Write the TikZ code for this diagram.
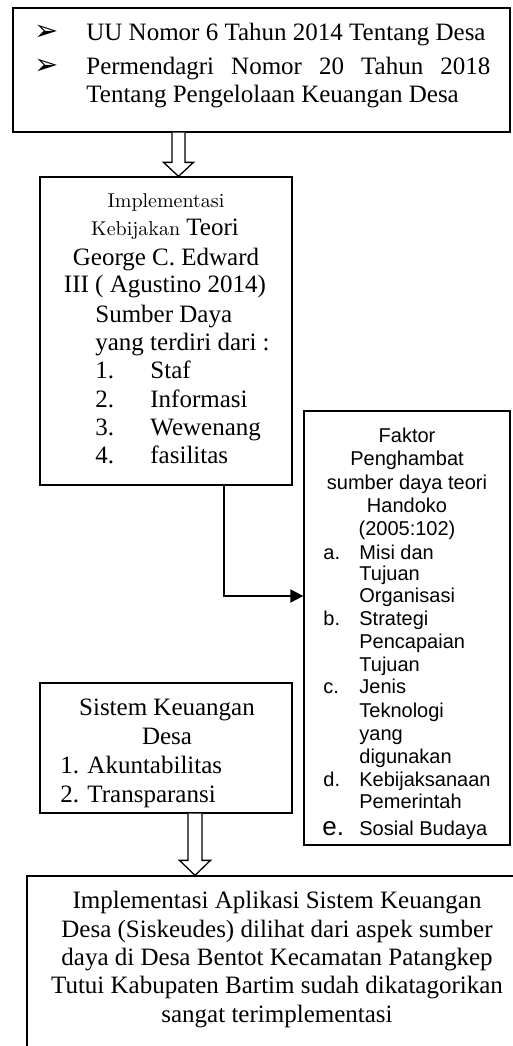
\documentclass[tikz,border=0pt]{standalone}
\usepackage{fontspec}
\setmainfont{Liberation Serif}
\newfontfamily\arialf{Liberation Sans}
\newfontfamily\lmrf{Latin Modern Roman}
\newfontfamily\djvf{DejaVu Sans}
\usetikzlibrary{fit,calc,arrows.meta}
\begin{document}
\begin{tikzpicture}[x=0.5pt,y=-0.5pt,
  box/.style={draw, line width=0.65pt, inner sep=0pt},
  ser/.style={font=\fontsize{12.5}{14.5}\selectfont, inner sep=0pt},
  sns/.style={font=\arialf\fontsize{10}{11.5}\selectfont, inner sep=0pt},
  bul/.style={font=\djvf\fontsize{14.5}{16}\selectfont, inner sep=0pt},
  harrow/.style={draw, line width=0.65pt, fill=white, line join=miter},
  conn/.style={draw, line width=0.9pt, -{Triangle[length=6.5pt,width=6.5pt]}}]
\useasboundingbox (0,0) rectangle (513,1046);
\clip (0,0) rectangle (513,1046);

% boxes
\node[box, fit={(13,8) (510,132)}] (b1) {};
\node[box, fit={(40,177) (292,485)}] (b2) {};
\node[box, fit={(304,411) (510,845)}] (b3) {};
\node[box, fit={(40,683) (292,813)}] (b4) {};
\node[box, fit={(27,876) (529,1075)}] (b5) {};

% top box text
\node[bul, anchor=base west] (t1b) at (34,40) {➢};
\node[ser, anchor=base west] (t1) at (86,40) {UU Nomor 6 Tahun 2014 Tentang Desa};
\node[bul, anchor=base west] (t2b) at (34,74) {➢};
\node[ser, anchor=base west] (t2) at (86,74) {\makebox[202pt][s]{Permendagri Nomor 20 Tahun 2018}};
\node[ser, anchor=base west] (t3) at (86,102) {Tentang Pengelolaan Keuangan Desa};

% box 2 text
\node[ser, anchor=base] (k1) at (166,207) {\lmrf\fontsize{10}{12}\selectfont Implementasi};
\node[ser, anchor=base] (k2) at (165,235) {{\lmrf\fontsize{10}{12}\selectfont Kebijakan} Teori};
\node[ser, anchor=base] (k3) at (166,265) {George C. Edward};
\node[ser, anchor=base] (k4) at (165,292) {III ( Agustino 2014)};
\node[ser, anchor=base west] (k5) at (95,322) {Sumber Daya};
\node[ser, anchor=base west] (k6) at (95,350) {yang terdiri dari :};
\node[ser, anchor=base west] (k7n) at (95,378) {1.};
\node[ser, anchor=base west] (k7) at (150,378) {Staf};
\node[ser, anchor=base west] (k8n) at (95,407) {2.};
\node[ser, anchor=base west] (k8) at (150,407) {Informasi};
\node[ser, anchor=base west] (k9n) at (95,435) {3.};
\node[ser, anchor=base west] (k9) at (150,435) {Wewenang};
\node[ser, anchor=base west] (k10n) at (95,463) {4.};
\node[ser, anchor=base west] (k10) at (150,463) {fasilitas};

% box 3 text
\node[sns, anchor=base] (f1) at (407,442) {Faktor};
\node[sns, anchor=base] (f2) at (407,465) {Penghambat};
\node[sns, anchor=base] (f3) at (407,489) {sumber daya teori};
\node[sns, anchor=base] (f4) at (407,512) {Handoko};
\node[sns, anchor=base] (f5) at (407,535) {(2005:102)};
\node[sns, anchor=base west] (fa) at (323,559) {a.};
\node[sns, anchor=base west] (fa1) at (359,559) {Misi dan};
\node[sns, anchor=base west] (fa2) at (359,580) {Tujuan};
\node[sns, anchor=base west] (fa3) at (359,602) {Organisasi};
\node[sns, anchor=base west] (fb) at (323,625) {b.};
\node[sns, anchor=base west] (fb1) at (359,625) {Strategi};
\node[sns, anchor=base west] (fb2) at (359,648) {Pencapaian};
\node[sns, anchor=base west] (fb3) at (359,671) {Tujuan};
\node[sns, anchor=base west] (fc) at (323,693) {c.};
\node[sns, anchor=base west] (fc1) at (359,693) {Jenis};
\node[sns, anchor=base west] (fc2) at (359,717) {Teknologi};
\node[sns, anchor=base west] (fc3) at (359,740) {yang};
\node[sns, anchor=base west] (fc4) at (359,763) {digunakan};
\node[sns, anchor=base west] (fd) at (323,786) {d.};
\node[sns, anchor=base west] (fd1) at (359,786) {Kebijaksanaan};
\node[sns, anchor=base west] (fd2) at (359,808) {Pemerintah};
\node[sns, anchor=base west, font=\arialf\fontsize{13}{14}\selectfont] (fe) at (322,835) {e.};
\node[sns, anchor=base west] (fe1) at (359,835) {Sosial Budaya};

% box 4 text
\node[ser, anchor=base] (s1) at (167,715) {Sistem Keuangan};
\node[ser, anchor=base] (s2) at (167,744) {Desa};
\node[ser, anchor=base west] (s3) at (60,773) {1. Akuntabilitas};
\node[ser, anchor=base west] (s4) at (60,802) {2. Transparansi};

% box 5 text
\node[ser, anchor=base] (r1) at (277,908) {Implementasi Aplikasi Sistem Keuangan};
\node[ser, anchor=base] (r2) at (277,937) {Desa (Siskeudes) dilihat dari aspek sumber};
\node[ser, anchor=base] (r3) at (277,965) {daya di Desa Bentot Kecamatan Patangkep};
\node[ser, anchor=base] (r4) at (277,993) {Tutui Kabupaten Bartim sudah dikatagorikan};
\node[ser, anchor=base] (r5) at (277,1022) {sangat terimplementasi};

% hollow arrow b1 -> b2
\coordinate (x1) at (178.5,0);
\coordinate (s1a) at (b1.south -| x1);
\coordinate (e1a) at (b2.north -| x1);
\draw[harrow] ($(s1a)+(-6.5,0)$) -- ($(e1a)+(-6.5,-14)$) -- ($(e1a)+(-15,-14)$) -- (e1a)
  -- ($(e1a)+(15,-14)$) -- ($(e1a)+(6.5,-14)$) -- ($(s1a)+(6.5,0)$);

% hollow arrow b4 -> b5
\coordinate (x2) at (195,0);
\coordinate (s2a) at (b4.south -| x2);
\coordinate (e2a) at (b5.north -| x2);
\draw[harrow] ($(s2a)+(-7,0)$) -- ($(e2a)+(-7,-15)$) -- ($(e2a)+(-15.5,-15)$) -- (e2a)
  -- ($(e2a)+(15.5,-15)$) -- ($(e2a)+(7,-15)$) -- ($(s2a)+(7,0)$);

% connector b2 -> b3
\coordinate (x3) at (224,596);
\draw[conn] (b2.south -| x3) |- (b3.west |- x3);
\end{tikzpicture}
\end{document}
